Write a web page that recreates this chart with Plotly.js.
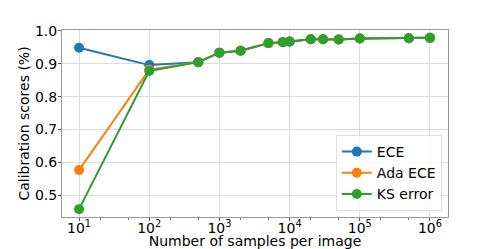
<!DOCTYPE html>
<html><head><meta charset="utf-8">
<script src="https://cdn.plot.ly/plotly-3.0.1.min.js"></script>
<style>html,body{margin:0;padding:0;background:#fff}#c{width:498px;height:249px}</style>
</head><body><div id="c"></div>
<script>
const samples = [10, 100, 500, 1000, 2000, 5000, 8000, 10000, 20000, 30000, 50000, 100000, 500000, 1000000];
const ece    = [0.949, 0.896, 0.905, 0.934, 0.940, 0.963, 0.966, 0.968, 0.975, 0.975, 0.974, 0.977, 0.978, 0.979];
const adaEce = [0.576, 0.882, 0.905, 0.934, 0.940, 0.963, 0.966, 0.968, 0.975, 0.975, 0.974, 0.977, 0.978, 0.979];
const ksErr  = [0.457, 0.878, 0.905, 0.934, 0.940, 0.963, 0.966, 0.968, 0.975, 0.975, 0.974, 0.977, 0.978, 0.979];
const seriesNames = ['ECE', 'Ada ECE', 'KS error'];
const colors = ['#1f77b4', '#ff7f0e', '#2ca02c'];
const xTickVals = [10, 100, 1000, 10000, 100000, 1000000];
const xTickText = ['10<sup>1</sup>', '10<sup>2</sup>', '10<sup>3</sup>', '10<sup>4</sup>', '10<sup>5</sup>', '10<sup>6</sup>'];
const yTickVals = [0.5, 0.6, 0.7, 0.8, 0.9, 1.0];

const data = [ece, adaEce, ksErr].map((ys, i) => ({
  x: samples, y: ys, name: seriesNames[i], type: 'scatter', mode: 'lines+markers',
  line: {color: colors[i], width: 2},
  marker: {color: colors[i], size: 10}
}));

const F = 'DejaVu Sans';
Plotly.newPlot('c', data, {
  width: 498, height: 249,
  margin: {l: 62, r: 50, t: 30, b: 32},
  paper_bgcolor: '#fff', plot_bgcolor: '#fff',
  font: {family: F, size: 14, color: '#000'},
  showlegend: true,
  legend: {x: 0.984, y: 0.032, xanchor: 'right', yanchor: 'bottom',
    bgcolor: 'rgba(255,255,255,0.8)', bordercolor: '#ddd', borderwidth: 1,
    font: {family: F, size: 14}, itemwidth: 30, tracegroupgap: 0},
  xaxis: {type: 'log', range: [0.757, 6.257], tickvals: xTickVals, ticktext: xTickText,
    tickfont: {family: F, size: 14}, showgrid: true, gridcolor: '#dcdcdc', ticklabelstandoff: -5,
    showline: true, linecolor: '#999', mirror: true, ticks: 'outside', ticklen: 3, tickcolor: '#555',
    minor: {ticks: 'outside', ticklen: 2, tickcolor: '#777', showgrid: false},
    zeroline: false,
    title: {text: 'Number of samples per image', font: {family: F, size: 14}, standoff: 0}},
  yaxis: {range: [0.433, 1.003], tickvals: yTickVals, tickformat: '.1f',
    tickfont: {family: F, size: 14}, showgrid: true, gridcolor: '#dcdcdc', ticklabelstandoff: -2,
    showline: true, linecolor: '#999', mirror: true, ticks: 'outside', ticklen: 3, tickcolor: '#555',
    zeroline: false,
    title: {text: 'Calibration scores (%)', font: {family: F, size: 14}, standoff: 2}}
}, {staticPlot: true});
</script></body></html>
